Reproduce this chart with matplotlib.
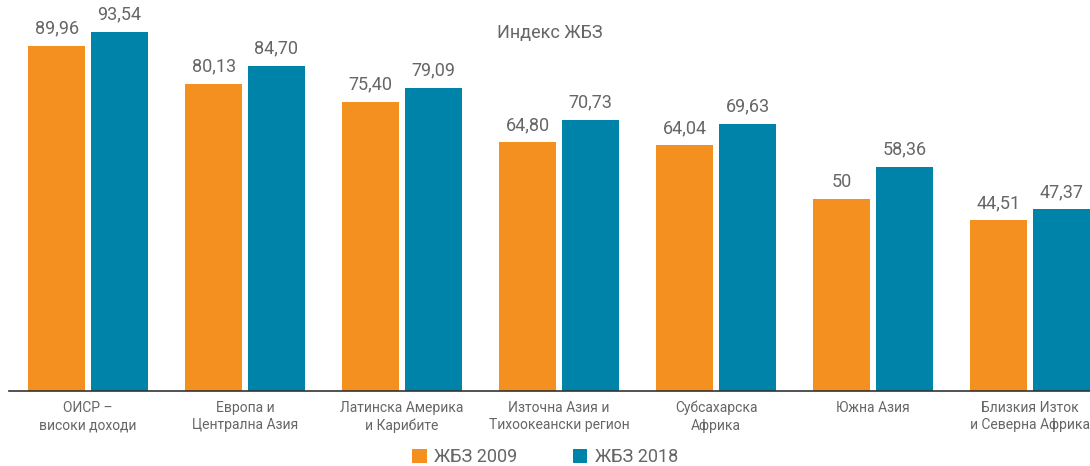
import matplotlib.pyplot as plt
import numpy as np

# data
regions = ['ОИСР –\nвисоки доходи', 'Европа и\nЦентрална Азия', 'Латинска Америка\nи Карибите',
           'Източна Азия и\nТихоокеански регион', 'Субсахарска\nАфрика', 'Южна Азия',
           'Близкия Изток\nи Северна Африка']
gfs_2009 = [89.96, 80.13, 75.40, 64.80, 64.04, 50, 44.51]
gfs_2018 = [93.54, 84.70, 79.09, 70.73, 69.63, 58.36, 47.37]
labels_2009 = ['89,96', '80,13', '75,40', '64,80', '64,04', '50', '44,51']
labels_2018 = ['93,54', '84,70', '79,09', '70,73', '69,63', '58,36', '47,37']

orange = '#F39020'
blue = '#0083A9'
grey = '#666666'

plt.rcParams['font.family'] = ['Roboto', 'DejaVu Sans']

fig = plt.figure(figsize=(10.9, 4.66), dpi=100)
ax = fig.add_axes([9 / 1090, 75 / 466, 1 - 9 / 1090, 391 / 466])

x = np.arange(len(regions))
w = 0.363
b1 = ax.bar(x - 0.2, gfs_2009, w, color=orange, label='ЖБЗ 2009')
b2 = ax.bar(x + 0.2, gfs_2018, w, color=blue, label='ЖБЗ 2018')
ax.bar_label(b1, labels=labels_2009, padding=6, fontsize=13, color=grey)
ax.bar_label(b2, labels=labels_2018, padding=6, fontsize=13, color=grey)

ax.set_xlim(-0.503, 6.38)
ax.set_ylim(0, 101.9)
ax.set_xticks(x)
ax.set_xticklabels(regions, fontsize=10, color=grey, linespacing=1.3)
ax.tick_params(axis='x', length=0, pad=7)
ax.set_yticks([])
for s in ['top', 'left', 'right']:
    ax.spines[s].set_visible(False)
ax.spines['bottom'].set_color('#333333')
ax.spines['bottom'].set_linewidth(1.2)

ax.text(0.5, 0.915, 'Индекс ЖБЗ', transform=ax.transAxes, ha='center', va='center',
        fontsize=13, color=grey)

fig.legend(loc='lower center', ncol=2, frameon=False, fontsize=13, labelcolor=grey,
           handlelength=0.8, handleheight=0.8, handletextpad=0.4, columnspacing=3.1,
           borderpad=0.2, bbox_to_anchor=(0.5, -0.028))

fig.savefig('out.png', dpi=100)
